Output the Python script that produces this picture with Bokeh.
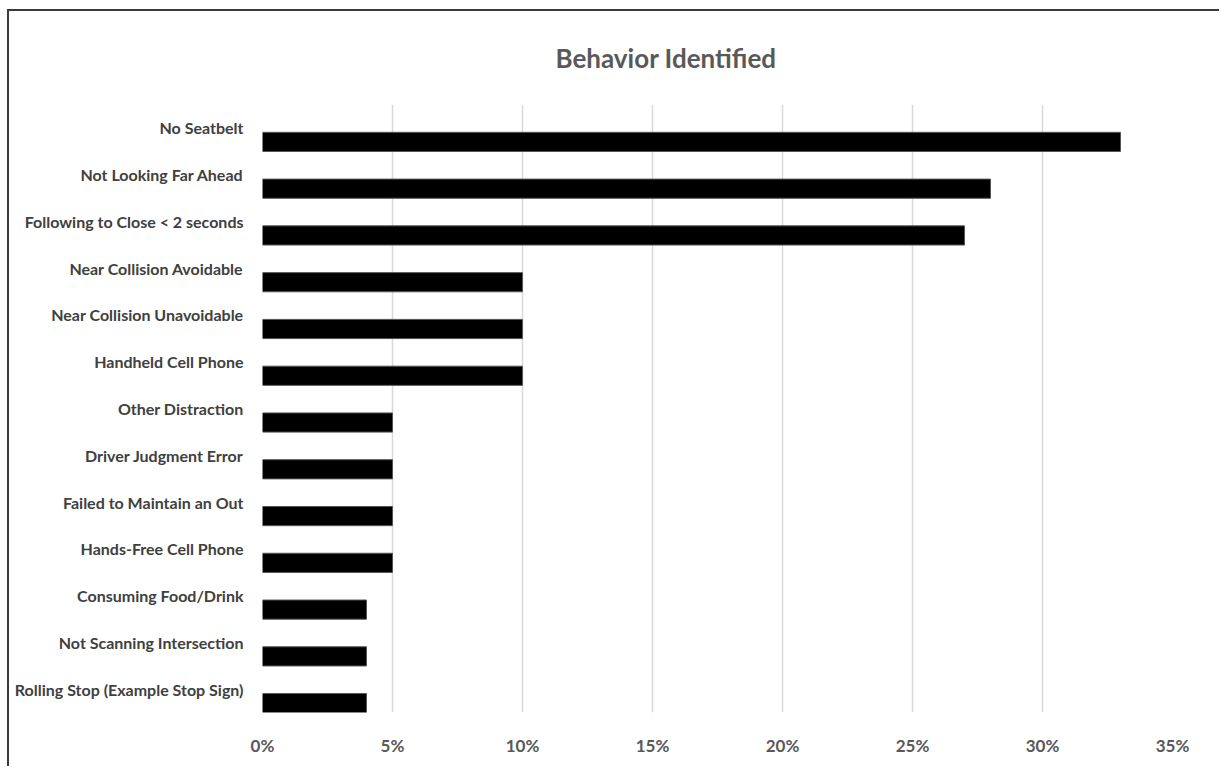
from bokeh.plotting import figure
from bokeh.models import FactorRange, Range1d, NumeralTickFormatter, FixedTicker, ColumnDataSource
from bokeh.transform import dodge
from bokeh.embed import file_html
from bokeh.resources import INLINE

title_text = "Behavior Identified"
categories = ["No Seatbelt", "Not Looking Far Ahead", "Following to Close < 2 seconds",
              "Near Collision Avoidable", "Near Collision Unavoidable", "Handheld Cell Phone",
              "Other Distraction", "Driver Judgment Error", "Failed to Maintain an Out",
              "Hands-Free Cell Phone", "Consuming Food/Drink", "Not Scanning Intersection",
              "Rolling Stop (Example Stop Sign)"]
values = [0.33, 0.28, 0.27, 0.10, 0.10, 0.10, 0.05, 0.05, 0.05, 0.05, 0.04, 0.04, 0.04]
x_ticks = [0, 0.05, 0.10, 0.15, 0.20, 0.25, 0.30, 0.35]

FONT = "Lato"

source = ColumnDataSource(dict(cat=categories, val=values))

p = figure(width=1212, height=757, output_backend="svg", toolbar_location=None,
           y_range=FactorRange(factors=list(reversed(categories)), range_padding=0),
           x_range=Range1d(0, 0.35),
           min_border_left=253, min_border_right=49, min_border_top=93, min_border_bottom=56)

p.hbar(y=dodge("cat", -0.3, range=p.y_range), right="val", left=0, height=0.41,
       source=source, fill_color="#000000", line_color="#555555", line_width=1)

p.title.text = title_text
p.title.align = "left"
p.title.offset = 293
p.title.vertical_align = "top"
p.title.text_font = FONT
p.title.text_font_size = "26px"
p.title.text_font_style = "bold"
p.title.text_color = "#595959"
p.title.standoff = 57

p.xaxis.ticker = FixedTicker(ticks=x_ticks)
p.xaxis.formatter = NumeralTickFormatter(format="0%")
p.xaxis.axis_line_color = None
p.xaxis.major_tick_line_color = None
p.xaxis.minor_tick_line_color = None
p.xaxis.major_label_text_font = FONT
p.xaxis.major_label_text_font_size = "17px"
p.xaxis.major_label_text_font_style = "bold"
p.xaxis.major_label_text_color = "#595959"
p.xaxis.major_label_standoff = 16

p.yaxis.axis_line_color = None
p.yaxis.major_tick_line_color = None
p.yaxis.minor_tick_line_color = None
p.yaxis.major_label_text_font = FONT
p.yaxis.major_label_text_font_size = "16px"
p.yaxis.major_label_text_font_style = "bold"
p.yaxis.major_label_text_color = "#404040"
p.yaxis.major_label_standoff = 13

p.xgrid.grid_line_color = "#d9d9d9"
p.xgrid.grid_line_width = 1.5
p.ygrid.grid_line_color = None
p.outline_line_color = None

p.styles = {"margin-left": "9px", "margin-top": "11px",
            "box-shadow": "-2px -2px 0 0 #3a3a3a"}

open("out.html", "w").write(file_html(p, INLINE))
